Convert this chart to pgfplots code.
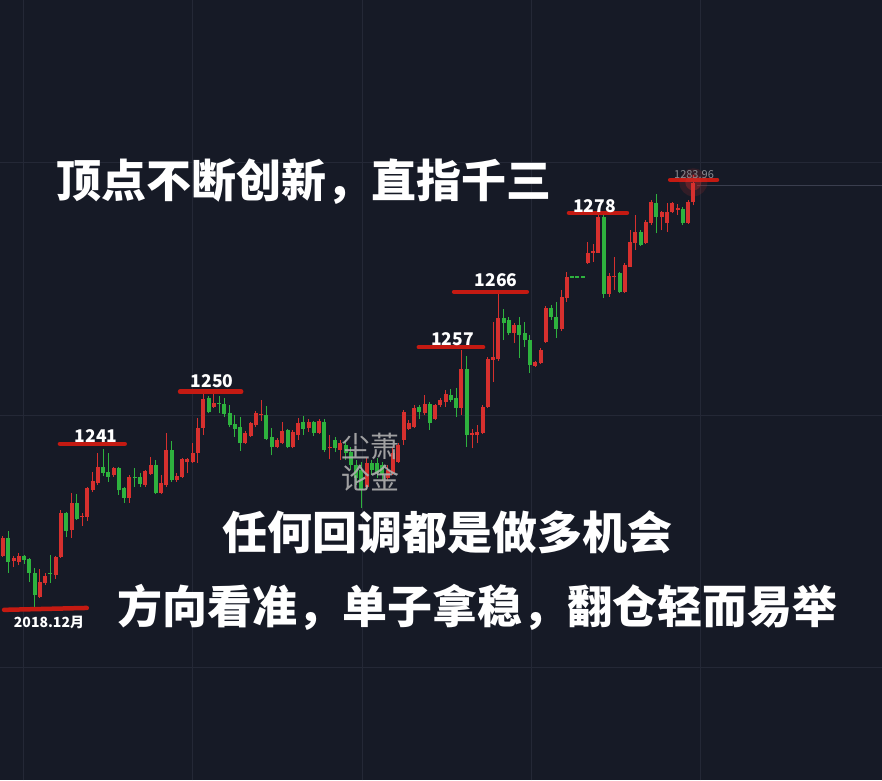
\documentclass[border=0pt]{standalone}
\usepackage{pgfplots}
\pgfplotsset{compat=1.18}
\usepackage{pgfplotstable}
\usepackage{fontspec}
\setmainfont{Noto Sans}
\newfontfamily\cjk{Noto Sans CJK SC}

\definecolor{bg}{RGB}{22,26,38}
\definecolor{gridc}{RGB}{36,40,54}
\definecolor{upred}{RGB}{214,48,46}
\definecolor{dngreen}{RGB}{46,178,62}
\definecolor{marker}{RGB}{196,26,18}
\definecolor{priceline}{RGB}{58,62,78}

% rising candles (red): index, open, high, low, close
\pgfplotstableread{
i o h l c
0 1224.1 1227.2 1223.9 1226.9
2 1223.3 1224.1 1222.3 1223.8
3 1223.1 1224.5 1222.6 1224.1
7 1217.6 1222.0 1217.5 1220.0
8 1219.8 1221.4 1219.5 1220.9
10 1221.1 1224.1 1220.5 1223.9
11 1223.9 1231.3 1223.8 1230.8
13 1228.2 1234.0 1226.9 1232.4
15 1230.2 1230.8 1228.8 1230.4
16 1230.2 1234.9 1229.6 1234.8
17 1234.4 1237.3 1234.1 1235.9
18 1235.5 1240.3 1235.2 1238.1
21 1236.8 1238.1 1236.5 1237.9
24 1233.2 1236.8 1232.4 1236.5
27 1235.2 1237.6 1234.9 1237.4
28 1237.0 1239.6 1236.8 1238.4
30 1234.0 1236.8 1233.8 1235.5
31 1235.2 1243.4 1234.9 1240.7
33 1236.0 1237.1 1235.7 1236.6
34 1236.5 1239.5 1236.3 1239.3
35 1238.8 1239.5 1237.1 1239.3
36 1238.8 1241.8 1238.7 1240.3
37 1240.3 1245.8 1238.7 1244.2
38 1244.2 1249.7 1243.1 1248.7
40 1247.5 1249.7 1247.3 1248.1
46 1241.8 1243.7 1241.7 1243.4
47 1242.9 1245.1 1242.8 1245.0
48 1244.7 1246.9 1244.3 1246.5
49 1246.2 1248.6 1245.3 1246.4
52 1241.2 1242.6 1241.0 1242.3
53 1241.8 1245.1 1241.7 1243.7
55 1241.2 1243.9 1241.0 1243.6
56 1243.1 1245.8 1242.3 1245.0
58 1244.2 1245.6 1243.6 1245.1
60 1243.4 1245.6 1243.2 1245.3
62 1241.0 1243.1 1239.3 1241.2
64 1240.7 1242.3 1239.2 1241.8
69 1234.9 1239.5 1234.4 1238.7
73 1236.3 1238.4 1236.0 1237.6
74 1237.1 1241.0 1236.8 1240.3
75 1238.8 1241.8 1238.7 1241.5
76 1242.3 1247.0 1241.5 1246.7
77 1244.0 1245.5 1243.9 1245.0
78 1244.3 1247.8 1244.2 1247.3
80 1246.5 1249.4 1246.2 1248.0
82 1245.6 1248.0 1245.5 1247.8
83 1247.8 1248.9 1247.5 1248.6
84 1248.3 1250.2 1247.5 1249.5
87 1247.3 1256.4 1246.2 1253.5
89 1243.1 1244.0 1241.0 1243.4
90 1243.1 1244.7 1241.8 1243.6
91 1243.4 1247.8 1243.2 1247.5
92 1247.5 1255.3 1247.3 1255.0
93 1254.9 1260.9 1251.4 1255.3
94 1255.0 1265.4 1254.7 1261.5
97 1259.1 1260.7 1257.6 1260.4
101 1253.9 1254.7 1253.8 1254.6
102 1254.4 1256.8 1254.3 1256.4
103 1257.7 1263.4 1257.6 1263.1
106 1259.8 1265.9 1259.4 1264.8
107 1264.6 1268.7 1264.0 1267.9
111 1270.1 1273.4 1270.0 1271.7
112 1271.7 1273.1 1270.3 1272.0
113 1271.7 1277.7 1271.7 1277.4
115 1265.3 1268.6 1264.8 1268.1
116 1267.9 1271.1 1265.9 1268.1
118 1265.6 1270.1 1265.4 1269.8
119 1269.5 1275.3 1269.5 1273.4
120 1273.3 1277.7 1272.2 1275.0
122 1273.3 1276.9 1273.1 1276.6
123 1276.4 1280.0 1276.1 1279.7
125 1277.4 1278.3 1275.3 1278.1
126 1276.4 1279.6 1275.0 1278.1
127 1278.1 1279.7 1278.0 1279.6
128 1278.5 1279.4 1277.7 1278.8
130 1276.4 1280.0 1276.3 1279.7
131 1279.7 1283.96 1279.2 1282.7
}\up

% falling candles (green)
\pgfplotstableread{
i o h l c
1 1226.9 1228.0 1221.4 1223.1
4 1224.1 1224.2 1222.8 1223.4
5 1223.6 1223.8 1220.0 1221.4
6 1221.4 1222.2 1215.9 1217.9
9 1221.4 1224.2 1219.8 1221.2
12 1230.8 1231.0 1227.1 1228.0
14 1232.4 1233.8 1229.7 1229.9
19 1238.1 1240.9 1236.6 1237.1
20 1237.3 1240.3 1235.7 1236.5
22 1237.9 1238.1 1233.7 1234.4
23 1234.8 1234.9 1232.4 1233.2
25 1236.5 1237.9 1234.9 1236.3
26 1236.5 1237.1 1234.9 1235.4
29 1238.4 1239.2 1233.8 1234.0
32 1240.7 1242.1 1235.7 1236.0
39 1248.9 1249.2 1246.5 1246.7
41 1248.1 1249.2 1246.5 1247.9
42 1248.0 1248.9 1245.9 1246.4
43 1246.5 1247.8 1244.3 1244.7
44 1244.8 1246.2 1242.8 1244.0
45 1244.3 1245.9 1240.6 1241.8
50 1246.2 1247.7 1242.3 1242.5
51 1242.8 1244.2 1239.9 1241.2
54 1243.9 1244.0 1241.0 1241.2
57 1245.1 1246.1 1243.1 1244.0
59 1245.1 1245.3 1242.9 1243.4
61 1245.1 1245.6 1240.4 1240.7
63 1242.3 1242.8 1240.4 1241.0
65 1241.5 1242.3 1239.2 1240.3
66 1240.4 1241.2 1237.6 1238.4
67 1238.4 1239.2 1235.2 1236.3
68 1237.6 1238.8 1231.6 1234.4
70 1238.7 1239.2 1236.8 1237.6
71 1238.7 1239.5 1236.3 1237.1
72 1238.4 1238.8 1236.0 1236.8
79 1247.5 1247.8 1245.6 1246.7
81 1248.0 1248.3 1243.9 1245.0
85 1249.4 1250.3 1248.3 1248.6
86 1248.9 1250.5 1245.9 1247.3
88 1253.5 1255.5 1241.2 1243.1
95 1261.5 1262.9 1258.0 1260.7
96 1261.2 1261.6 1258.8 1259.1
98 1260.4 1261.6 1255.2 1258.8
99 1259.1 1260.9 1256.9 1258.0
100 1258.0 1258.8 1252.8 1254.1
104 1263.1 1263.5 1261.2 1261.6
105 1261.6 1264.0 1258.3 1259.8
108 1268.1 1268.1 1267.8 1267.8
109 1268.1 1268.1 1267.8 1267.8
110 1268.1 1268.1 1267.8 1267.8
114 1277.4 1278.0 1264.6 1265.3
117 1268.6 1268.7 1265.4 1265.6
121 1275.0 1275.3 1272.8 1273.0
124 1279.6 1281.0 1274.8 1277.4
129 1278.6 1278.9 1276.1 1276.4
}\dn

\pgfplotsset{
  candle/.style 2 args={draw=none, mark=none, forget plot,
    error bars/.cd, y dir=plus, y explicit, error mark=none,
    error bar style={draw=#1, line width=#2, solid}},
}

\begin{document}
\begin{tikzpicture}
\begin{axis}[
    at={(0,0)}, anchor=north west,
    scale only axis, width=882pt, height=780pt,
    xmin=-0.569, xmax=166.8,
    ymin=1188.85, ymax=1311.47,
    axis line style={draw=none},
    axis background/.style={fill=bg},
    xtick={3.80,35.86,68.12,100.19,132.26},
    ytick={1206.5,1246.2,1286.0},
    xticklabels={}, yticklabels={},
    major tick length=0pt,
    grid=major,
    major grid style={draw=gridc, line width=0.9pt},
]

% last price line
\addplot[priceline, line width=0.8pt] coordinates {(131.7,1282.4) (166.8,1282.4)};

% wicks
\addplot[candle={upred}{1pt}]
    table[x=i, y=l, y error expr=\thisrow{h}-\thisrow{l}] {\up};
\addplot[candle={dngreen}{1pt}]
    table[x=i, y=l, y error expr=\thisrow{h}-\thisrow{l}] {\dn};

% bodies
\addplot[candle={upred}{4pt}]
    table[x=i, y=o, y error expr=\thisrow{c}-\thisrow{o}] {\up};
\addplot[candle={dngreen}{4pt}]
    table[x=i, y=c, y error expr=\thisrow{o}-\thisrow{c}] {\dn};

% red level markers
\addplot[marker, line width=4.5pt, line cap=round] coordinates {(0.2,1215.6) (15.9,1215.9)};
\addplot[marker, line width=4.5pt, line cap=round] coordinates {(10.8,1241.7) (23.1,1241.7)};
\addplot[marker, line width=4.5pt, line cap=round] coordinates {(33.6,1249.9) (45.2,1249.9)};
\addplot[marker, line width=4.5pt, line cap=round] coordinates {(78.9,1256.9) (91.1,1256.9)};
\addplot[marker, line width=4.5pt, line cap=round] coordinates {(85.6,1265.6) (99.4,1265.6)};
\addplot[marker, line width=4.5pt, line cap=round] coordinates {(107.4,1278.0) (118.4,1278.0)};
\addplot[marker, line width=4.5pt, line cap=round] coordinates {(126.6,1283.2) (135.5,1283.2)};

% glow on the last high
\fill[upred, opacity=0.15] (axis cs:131,1282.8) circle[radius=14pt];
\fill[upred, opacity=0.3] (axis cs:131,1282.8) circle[radius=8pt];
\end{axis}

\begin{scope}[x=1pt, y=-1pt]
\tikzset{lbl/.style={text=white, inner sep=0pt, font=\cjk\bfseries\fontsize{17.5}{18}\selectfont}}
\node[lbl] at (96,436.5) {1241};
\node[lbl] at (212,381) {1250};
\node[lbl] at (452.5,339.5) {1257};
\node[lbl] at (496,280) {1266};
\node[lbl] at (594.5,206) {1278};
\node[text=white, inner sep=0pt, font=\cjk\bfseries\fontsize{14}{14}\selectfont] at (49,622) {2018.12月};
\node[text={rgb,255:red,140;green,140;blue,146}, inner sep=0pt, font=\cjk\fontsize{11}{11}\selectfont] at (694,175) {1283.96};

\tikzset{big/.style={text=white, inner sep=0pt, font=\cjk\bfseries\fontsize{45}{45}\selectfont}}
\node[big] at (304,182) {顶点不断创新，直指千三};
\node[big] at (447,532) {任何回调都是做多机会};
\node[big] at (477,607) {方向看准，单子拿稳，翻仓轻而易举};

\tikzset{wm/.style={text={rgb,255:red,175;green,175;blue,175}, opacity=0.9, inner sep=0pt, font=\cjk\fontsize{29}{29}\selectfont}}
\node[wm] at (370,446) {尘萧};
\node[wm] at (370,478) {论金};
\end{scope}

\pgfresetboundingbox
\useasboundingbox (0,0) rectangle (882pt,-780pt);
\end{tikzpicture}
\end{document}
